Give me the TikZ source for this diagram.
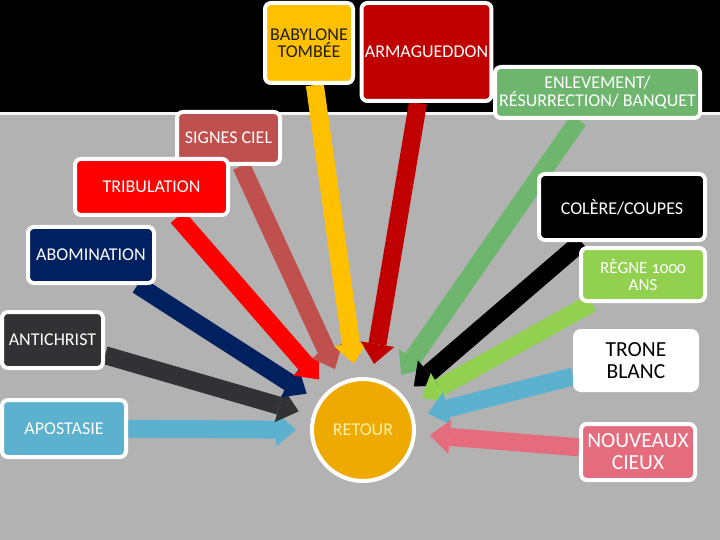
\documentclass[tikz,border=0pt]{standalone}
\usepackage{fontspec}
\setmainfont{Carlito}
\usetikzlibrary{arrows.meta,backgrounds}
\definecolor{bggrey}{RGB}{178,178,178}
\definecolor{babcol}{RGB}{255,192,0}
\definecolor{armcol}{RGB}{192,0,0}
\definecolor{enlcol}{RGB}{110,182,110}
\definecolor{sigcol}{RGB}{192,80,77}
\definecolor{tricol}{RGB}{255,0,0}
\definecolor{abocol}{RGB}{0,32,96}
\definecolor{antcol}{RGB}{50,50,52}
\definecolor{apocol}{RGB}{92,177,207}
\definecolor{regcol}{RGB}{146,208,80}
\definecolor{nouvcol}{RGB}{228,108,125}
\definecolor{retcol}{RGB}{238,170,0}
\definecolor{rettext}{RGB}{255,240,170}
\definecolor{darktext}{RGB}{30,30,30}
\tikzstyle{card} = [rectangle, draw=white, line width=4pt, rounded corners=6pt, text centered, align=center, text=white, font=\fontsize{18}{17.5}\selectfont]
\tikzstyle{bigcard} = [card, font=\fontsize{21.5}{22}\selectfont]
\tikzstyle{pointer} = [line width=18pt, -{Triangle[width=34pt,length=20pt,line width=0pt]}, shorten >=14pt]

\begin{document}
\begin{tikzpicture}[x=1pt,y=-1pt]
\useasboundingbox (0,0) rectangle (720,540);
% centre
\node[circle, draw=white, line width=4pt, fill=retcol, text=rettext, minimum size=102pt, font=\fontsize{18}{18}\selectfont] (retour) at (363,430) {RETOUR};
% top row
\node[card, fill=babcol, text=darktext, minimum width=88pt, minimum height=80pt] (babylone) at (309,43) {BABYLONE\\TOMBÉE};
\node[card, fill=armcol, minimum width=129pt, minimum height=98pt] (armageddon) at (426.5,52) {ARMAGUEDDON};
\node[card, fill=enlcol, minimum width=205pt, minimum height=51pt] (enlevement) at (597.5,92.5) {ENLEVEMENT/\\RÉSURRECTION/ BANQUET};
% left side
\node[card, fill=sigcol, minimum width=103pt, minimum height=52pt] (signes) at (228.5,138) {SIGNES CIEL};
\node[card, fill=tricol, minimum width=153pt, minimum height=56pt] (tribulation) at (151.5,187) {TRIBULATION};
\node[card, fill=abocol, minimum width=126pt, minimum height=56pt] (abomination) at (91,255) {ABOMINATION};
\node[card, fill=antcol, minimum width=101pt, minimum height=56pt] (antichrist) at (52.5,340) {ANTICHRIST};
\node[card, fill=apocol, minimum width=124pt, minimum height=57pt] (apostasie) at (64,428.5) {APOSTASIE};
% right side
\node[card, fill=black, minimum width=166pt, minimum height=66pt] (colere) at (622,207) {COLÈRE/COUPES};
\node[card, fill=regcol, minimum width=124pt, minimum height=53pt, font=\fontsize{17}{17}\selectfont] (regne) at (643,274.5) {RÈGNE {\addfontfeatures{Numbers=OldStyle}1000}\\ANS};
\node[bigcard, fill=white, text=black, minimum width=122pt, minimum height=59pt] (trone) at (636,360.5) {TRONE\\BLANC};
\node[bigcard, fill=nouvcol, minimum width=114pt, minimum height=56pt] (nouveaux) at (638,452) {NOUVEAUX\\CIEUX};

\begin{scope}[on background layer]
\fill[bggrey] (0,0) rectangle (720,540);
\fill[black] (0,0) rectangle (720,112);
\fill[white!85!bggrey] (0,112) rectangle (720,115);
% arrows
\draw[pointer, apocol] (apostasie) -- (retour);
\draw[pointer, antcol] (antichrist) -- (retour);
\draw[pointer, abocol] (abomination) -- (retour);
\draw[pointer, tricol] (tribulation) -- (retour);
\draw[pointer, sigcol] (signes) -- (retour);
\draw[pointer, babcol] (babylone) -- (retour);
\draw[pointer, armcol] (armageddon) -- (retour);
\draw[pointer, enlcol] (enlevement) -- (retour);
\draw[pointer, black] (colere) -- (retour);
\draw[pointer, regcol] (regne) -- (retour);
\draw[pointer, apocol] (trone) -- (retour);
\draw[pointer, nouvcol] (nouveaux) -- (retour);
\end{scope}
\end{tikzpicture}
\end{document}
